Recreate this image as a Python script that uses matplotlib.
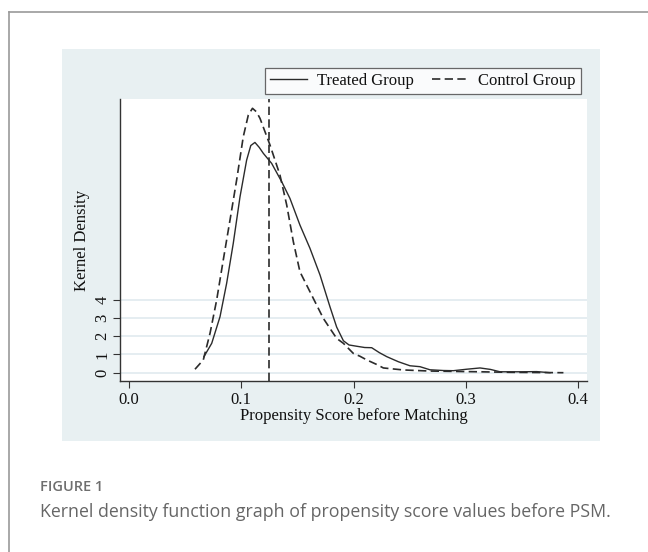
import numpy as np
import matplotlib.pyplot as plt
from matplotlib.patches import Rectangle
from matplotlib.lines import Line2D

# propensity score density
treated_x = [0.0668, 0.0737, 0.0811, 0.0870, 0.0929, 0.0989, 0.1048, 0.1085, 0.1122, 0.1160,
             0.1197, 0.1271, 0.1360, 0.1434, 0.1523, 0.1612, 0.1702, 0.1791, 0.1850, 0.1910,
             0.1960, 0.2028, 0.2100, 0.2162, 0.2230, 0.2296, 0.2400, 0.2503, 0.2592, 0.2681,
             0.2800, 0.2889, 0.3008, 0.3127, 0.3220, 0.3305, 0.3500, 0.3632, 0.3750]
treated_y = [0.88, 1.61, 3.07, 4.90, 7.09, 9.64, 11.65, 12.45, 12.62, 12.35,
             12.02, 11.47, 10.47, 9.55, 8.09, 6.82, 5.35, 3.60, 2.50, 1.75,
             1.52, 1.45, 1.38, 1.37, 1.10, 0.88, 0.60, 0.38, 0.33, 0.16,
             0.12, 0.11, 0.19, 0.26, 0.18, 0.05, 0.05, 0.06, 0.00]

control_x = [0.0588, 0.0662, 0.0722, 0.0781, 0.0840, 0.0900, 0.0959, 0.1018, 0.1063, 0.1100,
             0.1135, 0.1167, 0.1256, 0.1345, 0.1405, 0.1464, 0.1523, 0.1612, 0.1731, 0.1790,
             0.1850, 0.1910, 0.1998, 0.2058, 0.2118, 0.2207, 0.2266, 0.2444, 0.2681, 0.3127,
             0.3400, 0.3870]
control_y = [0.19, 0.70, 2.16, 3.98, 6.18, 8.37, 10.56, 12.93, 14.12, 14.49,
             14.30, 13.94, 12.48, 10.83, 9.19, 7.18, 5.53, 4.44, 2.98, 2.43,
             1.88, 1.61, 1.06, 0.90, 0.70, 0.45, 0.26, 0.15, 0.09, 0.05,
             0.02, 0.00]

cutoff = 0.125
x_ticks = [0.0, 0.1, 0.2, 0.3, 0.4]
y_ticks = [0, 1, 2, 3, 4]

W, H = 648, 552
fig = plt.figure(figsize=(W / 100, H / 100), dpi=100)
fig.patch.set_facecolor('white')

def fx(px):
    return px / W

def fy(py):
    return 1 - py / H

# card border (top and left edges)
fig.add_artist(Line2D([fx(9), 1], [fy(11.5), fy(11.5)], color='#9a9a9a', lw=1.2))
fig.add_artist(Line2D([fx(9), fx(9)], [fy(11.5), 0], color='#9a9a9a', lw=1.2))

# light graph region behind the plot
fig.add_artist(Rectangle((fx(62), fy(441)), fx(600) - fx(62), fy(49) - fy(441),
                         facecolor='#e8f0f2', edgecolor='none', zorder=0))

ax = fig.add_axes([fx(120), fy(381), fx(587) - fx(120), fy(99) - fy(381)])
ax.set_facecolor('white')
ax.set_xlim(-0.008, 0.408)
ax.set_ylim(-0.455, 15.0)

for t in y_ticks:
    ax.axhline(t, color='#e3ecf0', lw=1.3, zorder=1)

ink = '#2b2b2b'
ax.plot(treated_x, treated_y, color=ink, lw=1.0, label='Treated Group', zorder=3)
ax.plot(control_x, control_y, color=ink, lw=1.2, dashes=(5, 2.6), label='Control Group', zorder=3)
ax.axvline(cutoff, color=ink, lw=1.2, dashes=(5, 2.6), zorder=3)

for s in ['top', 'right']:
    ax.spines[s].set_visible(False)
for s in ['left', 'bottom']:
    ax.spines[s].set_color('#333333')
    ax.spines[s].set_linewidth(1.0)

serif = 'Liberation Serif'
fs = 12.0
ax.set_xticks(x_ticks)
ax.set_xticklabels(['%.1f' % v for v in x_ticks], fontfamily=serif, fontsize=fs)
ax.set_yticks(y_ticks)
ax.set_yticklabels([str(v) for v in y_ticks], fontfamily=serif, fontsize=fs,
                   rotation=90, va='center')
ax.tick_params(axis='both', length=5, width=0.8, color='#333333', labelcolor='#111111')
ax.tick_params(axis='x', pad=3)
ax.tick_params(axis='y', pad=2)

ax.set_xlabel('Propensity Score before Matching', fontfamily=serif, fontsize=fs,
              color='#111111', labelpad=0)
ax.set_ylabel('Kernel Density', fontfamily=serif, fontsize=fs, color='#111111', labelpad=3)

leg = fig.legend(loc='lower right', bbox_to_anchor=(fx(581), fy(94)),
                 bbox_transform=fig.transFigure, ncol=2, frameon=True, fancybox=False,
                 borderaxespad=0, handlelength=2.2, handletextpad=0.6, columnspacing=1.1,
                 borderpad=0.3, prop={'family': serif, 'size': fs})
leg.get_frame().set_edgecolor('#444444')
leg.get_frame().set_linewidth(0.9)
for txt in leg.get_texts():
    txt.set_color('#111111')

fig.text(fx(40), fy(487), 'FIGURE 1', fontfamily='Open Sans', fontsize=10.5,
         fontweight='semibold', color='#6e6e6e', va='center', ha='left')
fig.text(fx(40), fy(512), 'Kernel density function graph of propensity score values before PSM.',
         fontfamily='Open Sans', fontsize=12.8, color='#666666', va='center', ha='left')

fig.savefig('out.png', dpi=100, facecolor=fig.get_facecolor())
